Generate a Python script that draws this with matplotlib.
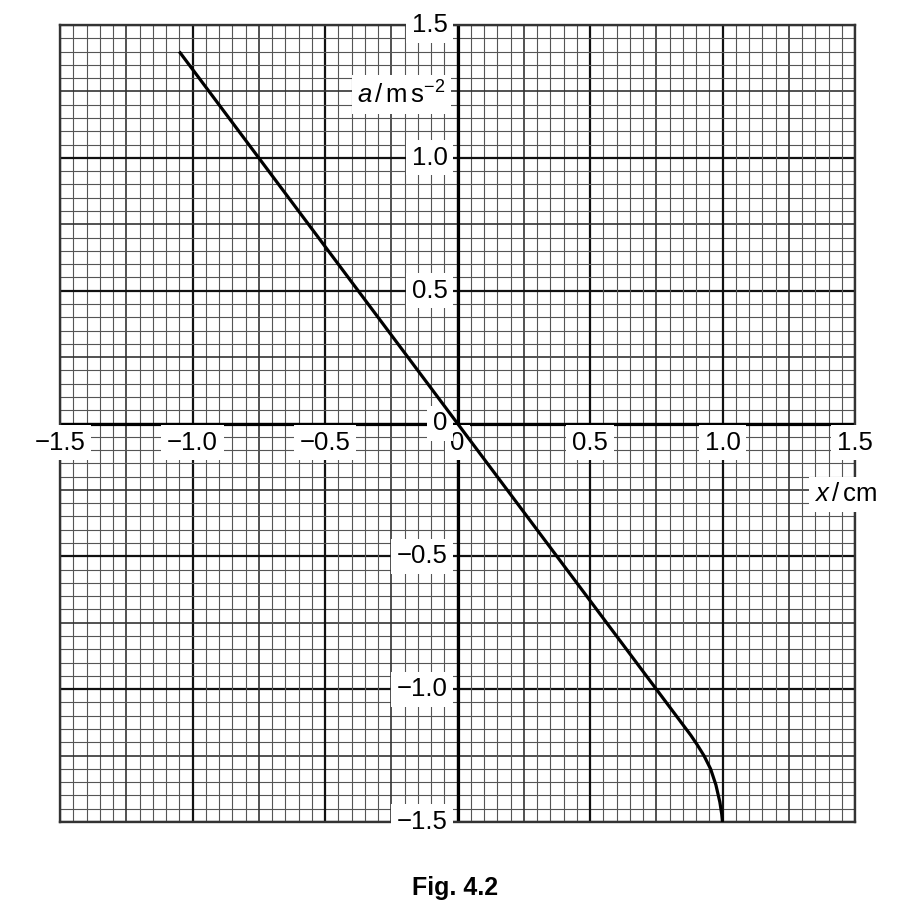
import matplotlib
matplotlib.use("Agg")
import matplotlib.pyplot as plt
import numpy as np

plt.rcParams["font.family"] = ["Liberation Sans", "DejaVu Sans"]
plt.rcParams["mathtext.fontset"] = "custom"
plt.rcParams["mathtext.rm"] = "Liberation Sans"
plt.rcParams["mathtext.it"] = "Liberation Sans:italic"

# curve
x_cm = [-1.05, 0.0, 0.88, 0.905, 0.93, 0.955, 0.975, 0.99, 0.997, 1.0]
a_ms2 = [1.40, 0.0, -1.173, -1.21, -1.25, -1.30, -1.36, -1.425, -1.47, -1.5]

xtick_vals = [-1.5, -1.0, -0.5, 0.0, 0.5, 1.0, 1.5]
xtick_labels = ["\u22121.5", "\u22121.0", "\u22120.5", "0", "0.5", "1.0", "1.5"]
ytick_vals = [1.5, 1.0, 0.5, 0.0, -0.5, -1.0, -1.5]
ytick_labels = ["1.5", "1.0", "0.5", "0", "\u22120.5", "\u22121.0", "\u22121.5"]

fig = plt.figure(figsize=(8.97, 9.16), dpi=100)
ax = fig.add_axes([60 / 897, 1 - 822 / 916, 795 / 897, 797 / 916])
ax.set_xlim(-1.5, 1.5)
ax.set_ylim(-1.5, 1.5)
ax.set_xticks([])
ax.set_yticks([])
for s in ax.spines.values():
    s.set_linewidth(1.7)
    s.set_color("#333333")
    s.set_zorder(2)

# graph paper
for v in np.linspace(-1.5, 1.5, 61):
    k = int(round(v / 0.05))
    if k % 10 == 0:
        lw, c = 1.6, "#111111"
    elif k % 5 == 0:
        lw, c = 1.2, "#333333"
    else:
        lw, c = 0.8, "#555555"
    ax.axvline(v, lw=lw, color=c, zorder=1)
    ax.axhline(v, lw=lw, color=c, zorder=1)

ax.axhline(0, lw=2.3, color="black", zorder=2)
ax.axvline(0, lw=2.3, color="black", zorder=2)

box = dict(facecolor="white", edgecolor="none", pad=4)
for v, t in zip(xtick_vals, xtick_labels):
    ax.text(v, -0.072, t, ha="center", va="center", fontsize=18.5,
            bbox=box, zorder=3, clip_on=False)
for v, t in zip(ytick_vals, ytick_labels):
    ax.text(-0.038, v, t, ha="right", va="center", fontsize=18.5,
            bbox=box, zorder=3, clip_on=False)

ax.text(-0.045, 1.238, r"$a\,/\,\mathrm{m\,s^{-2}}$", ha="right", va="center",
        fontsize=18.5, bbox=box, zorder=3, clip_on=False)
ax.text(1.465, -0.267, r"$x\,/\,\mathrm{cm}$", ha="center", va="center",
        fontsize=18.5, bbox=box, zorder=3, clip_on=False)

ax.plot(x_cm, a_ms2, color="black", lw=2.3, zorder=4, solid_capstyle="butt")

fig.text(455 / 897, 1 - 888 / 916, "Fig. 4.2", ha="center", va="center",
         fontsize=18, fontweight="bold")

fig.savefig("out.png", dpi=100)
